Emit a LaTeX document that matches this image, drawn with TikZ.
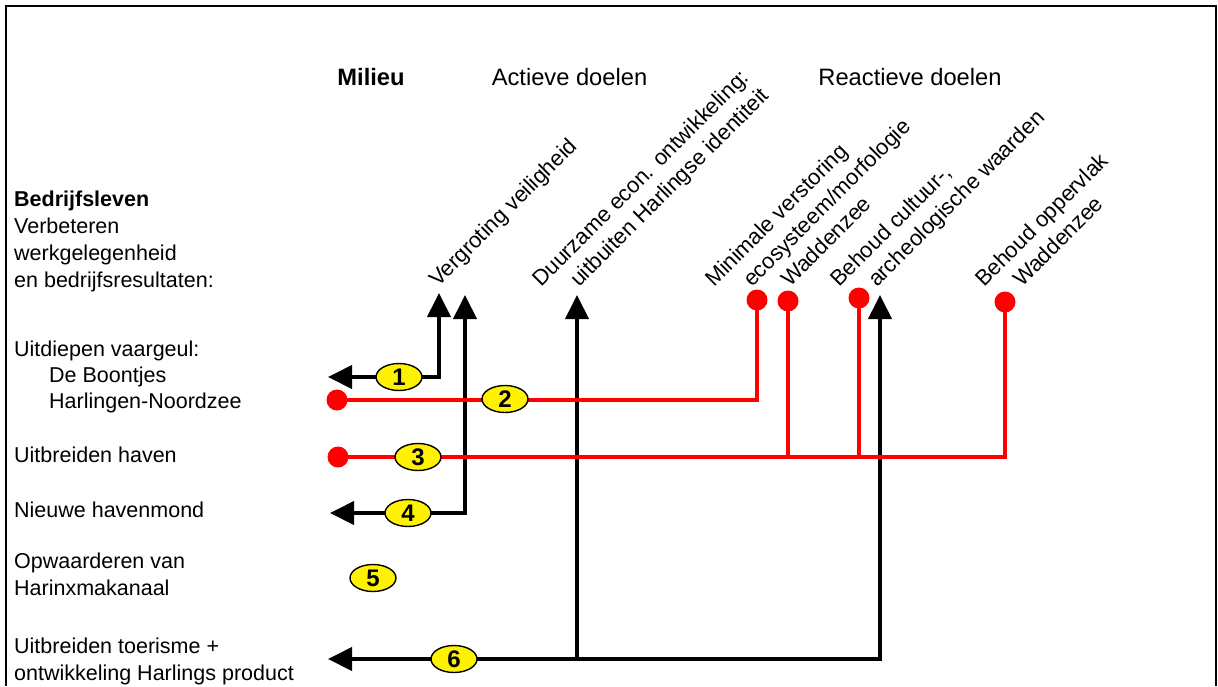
\documentclass[tikz,border=0pt]{standalone}
\usepackage{fontspec}
\setmainfont{Liberation Sans}
\usetikzlibrary{arrows.meta,shapes.geometric}
\begin{document}
\begin{tikzpicture}[x=1pt,y=-1pt,
  >={Triangle[length=24pt,width=23pt]},
  lbl/.style={anchor=base west, inner sep=0pt, font=\fontsize{21.5}{27}\selectfont},
  rlbl/.style={anchor=base west, inner sep=0pt, rotate=45, font=\fontsize{22}{27}\selectfont},
  ttl/.style={anchor=base, inner sep=0pt, font=\fontsize{23.7}{28}\selectfont},
  blk/.style={line width=4pt, draw=black},
  redl/.style={line width=4pt, draw=red},
  num/.style={ellipse, draw=black, line width=1.4pt, fill=yellow, minimum width=46pt, minimum height=27pt, inner sep=0pt, font=\fontsize{24}{24}\selectfont\bfseries},
  rdot/.style={circle, fill=red, minimum size=21pt, inner sep=0pt},
]
\useasboundingbox (0,0) rectangle (1218,686);
\fill[white] (0,0) rectangle (1218,686);
% frame
\draw[line width=2pt] (6,686) -- (6,6) -- (1216,6) -- (1216,686);

% titles
\node[ttl, font=\fontsize{23.7}{28}\selectfont\bfseries] (tMil) at (371,85) {Milieu};
\node[ttl] (tAct) at (569.5,85) {Actieve doelen};
\node[ttl] (tRea) at (910,85) {Reactieve doelen};

% left labels
\node[lbl, font=\fontsize{21.5}{27}\selectfont\bfseries] (l1) at (14,206) {Bedrijfsleven};
\node[lbl] (l2) at (14,233) {Verbeteren};
\node[lbl] (l3) at (14,260) {werkgelegenheid};
\node[lbl] (l4) at (14,287) {en bedrijfsresultaten:};
\node[lbl] (l5) at (14,356) {Uitdiepen vaargeul:};
\node[lbl] (l6) at (49,382) {De Boontjes};
\node[lbl] (l7) at (49,408) {Harlingen-Noordzee};
\node[lbl] (l8) at (14,462) {Uitbreiden haven};
\node[lbl] (l9) at (14,517) {Nieuwe havenmond};
\node[lbl] (l10) at (14,568) {Opwaarderen van};
\node[lbl] (l11) at (14,595) {Harinxmakanaal};
\node[lbl] (l12) at (14,653) {Uitbreiden toerisme +};
\node[lbl] (l13) at (14,680) {ontwikkeling Harlings product};

% rotated goal labels
\node[rlbl] (g1) at (438,288) {Vergroting veiligheid};
\node[rlbl] (g2a) at (541,288) {Duurzame econ. ontwikkeling:};
\node[rlbl] (g2b) at (579,288) {uitbuiten Harlingse identiteit};
\node[rlbl] (g3a) at (714,288) {Minimale verstoring};
\node[rlbl] (g3b) at (752,288) {ecosysteem/morfologie};
\node[rlbl] (g3c) at (790,288) {Waddenzee};
\node[rlbl] (g4a) at (839,288) {Behoud cultuur-,};
\node[rlbl] (g4b) at (877,288) {archeologische waarden};
\node[rlbl] (g5a) at (984,288) {Behoud oppervlak};
\node[rlbl] (g5b) at (1022,288) {Waddenzee};

% arrow end points
\coordinate (t1) at (328,377);
\coordinate (u1) at (439,293);
\coordinate (t4) at (330,513);
\coordinate (u4) at (465,295);
\coordinate (t6) at (328,659);
\coordinate (u6a) at (577,295);
\coordinate (u6b) at (880,295);

% black connectors
\draw[blk,<->] (t1) -- (t1 -| u1) -- (u1);
\draw[blk,<->] (t4) -- (t4 -| u4) -- (u4);
\draw[blk,<->] (t6) -- (t6 -| u6b) -- (u6b);
\draw[blk,->] (t6 -| u6a) -- (u6a);

% red dots
\node[rdot] (r2) at (337,400) {};
\node[rdot] (r3) at (338,457) {};
\node[rdot] (d1) at (757,300) {};
\node[rdot] (d2) at (788,301) {};
\node[rdot] (d3) at (859,298) {};
\node[rdot] (d4) at (1005,302) {};

% red connectors
\draw[redl] (r2.center) -- (r2.center -| d1.center) -- (d1.center);
\draw[redl] (r3.center) -- (r3.center -| d4.center) -- (d4.center);
\draw[redl] (r3.center -| d2.center) -- (d2.center);
\draw[redl] (r3.center -| d3.center) -- (d3.center);

% numbered ellipses
\node[num] (e1) at (399,377) {1};
\node[num] (e2) at (505,399) {2};
\node[num] (e3) at (418,457) {3};
\node[num] (e4) at (408,513) {4};
\node[num] (e5) at (373,578) {5};
\node[num] (e6) at (454,659) {6};
\end{tikzpicture}
\end{document}
